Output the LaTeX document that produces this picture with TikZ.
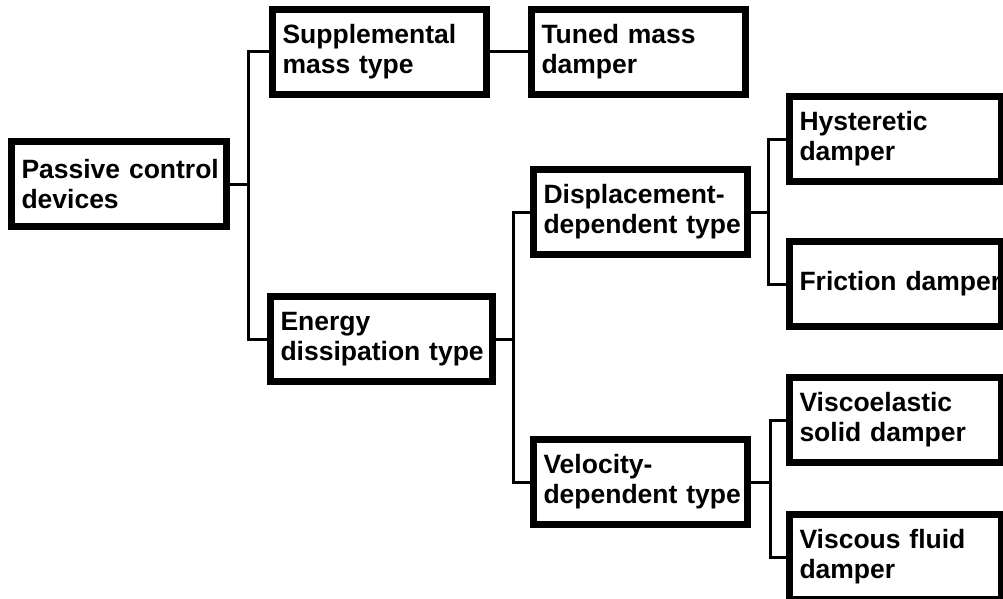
\documentclass[tikz,border=0pt]{standalone}
\usepackage{fontspec}
\setmainfont{Liberation Sans}
\hyphenpenalty=10000
\exhyphenpenalty=10000
\begin{document}
\begin{tikzpicture}[x=1pt,y=-1pt,
  devbox/.style={draw=black, line width=7pt, minimum height=85pt, inner xsep=10pt, inner ysep=0pt,
    align=left, text width=#1, font=\bfseries\fontsize{26.5}{30}\selectfont},
  link/.style={draw=black, line width=3pt}]
\useasboundingbox (0,0) rectangle (1003,599);
\fill[white] (0,0) rectangle (1003,599);
\clip (0,0) rectangle (1003,599);
\node[devbox=195pt] (passive) at (119,184) {Passive~control\\devices};
\node[devbox=194pt] (supp) at (379.5,52) {Supplemental\\mass type};
\node[devbox=194pt] (tuned) at (638.5,52) {Tuned mass\\damper};
\node[devbox=202pt] (energy) at (381.5,339) {Energy\\dissipation~type};
\node[devbox=194pt] (disp) at (640.5,212) {Displacement-\\dependent~type};
\node[devbox=194pt] (vel) at (640.5,482) {Velocity-\\dependent~type};
\node[devbox=192pt] (hyst) at (895.5,139) {Hysteretic\\damper};
\node[devbox=192pt] (fric) at (895.5,284) {Friction~damper};
\node[devbox=192pt] (visco) at (895.5,420) {Viscoelastic\\solid~damper};
\node[devbox=192pt] (viscous) at (895.5,557) {Viscous fluid\\damper};
\coordinate (j1) at (248,184);
\coordinate (j2) at (513,339);
\coordinate (j3) at (768,212);
\coordinate (j4) at (770,482);
\draw[link] (passive) -- (j1) |- (supp);
\draw[link] (j1) |- (energy);
\draw[link] (supp) -- (tuned);
\draw[link] (energy) -- (j2) |- (disp);
\draw[link] (j2) |- (vel);
\draw[link] (disp) -- (j3) |- (hyst);
\draw[link] (j3) |- (fric);
\draw[link] (vel) -- (j4) |- (visco);
\draw[link] (j4) |- (viscous);
\end{tikzpicture}
\end{document}
